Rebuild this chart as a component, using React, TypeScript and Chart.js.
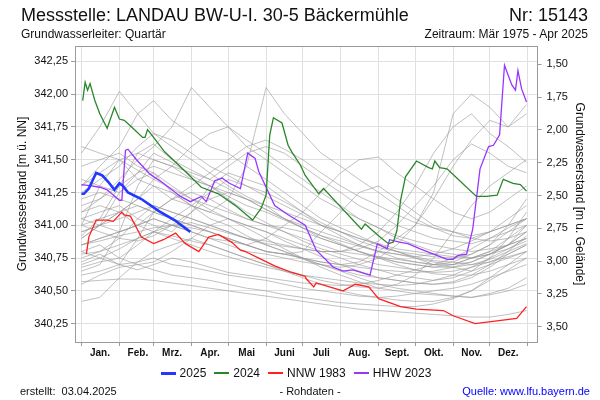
import React, { useEffect, useRef } from "react";
import { Chart, registerables } from "chart.js";
Chart.register(...registerables);

// ---------- data ----------
const GROUND_LEVEL = 343.727; // m ü. NN, used for the right axis (m u. Gelände)
const MONTH_STARTS = [0, 31, 59, 90, 120, 151, 181, 212, 243, 273, 304, 334, 365];
const MONTH_LABELS = ["Jan.", "Feb.", "Mrz.", "Apr.", "Mai", "Juni", "Juli", "Aug.", "Sept.", "Okt.", "Nov.", "Dez.", ""];
const LEFT_TICKS = [340.25, 340.5, 340.75, 341.0, 341.25, 341.5, 341.75, 342.0, 342.25];

const days2025 = [0, 2, 6, 12, 17, 22, 27, 31, 34, 38, 49, 63, 76, 89];
const vals2025 = [341.24, 341.24, 341.28, 341.40, 341.38, 341.33, 341.27, 341.32, 341.30, 341.25, 341.20, 341.11, 341.04, 340.95];

const days2024 = [1, 3, 5, 7, 11, 15, 21, 27, 31, 35, 41, 50, 52, 54, 59, 68, 85, 98, 112, 126, 140, 147, 151, 154, 157, 164, 169, 172, 179, 183, 194, 198, 211, 229, 232, 243, 251, 255, 258, 261, 265, 274, 284, 287, 289, 293, 299, 307, 323, 331, 340, 345, 353, 359, 364];
const vals2024 = [341.95, 342.09, 342.03, 342.08, 341.95, 341.85, 341.74, 341.90, 341.81, 341.80, 341.75, 341.67, 341.67, 341.73, 341.67, 341.56, 341.41, 341.29, 341.24, 341.15, 341.04, 341.13, 341.23, 341.69, 341.82, 341.78, 341.61, 341.56, 341.46, 341.38, 341.24, 341.28, 341.15, 340.97, 341.01, 340.92, 340.86, 340.87, 340.96, 341.19, 341.37, 341.49, 341.44, 341.43, 341.49, 341.44, 341.43, 341.36, 341.22, 341.22, 341.23, 341.35, 341.32, 341.31, 341.26];

const daysNNW1983 = [4, 6, 12, 21, 26, 33, 35, 40, 49, 59, 67, 77, 85, 96, 104, 112, 123, 130, 134, 145, 158, 172, 183, 184, 190, 192, 214, 224, 235, 243, 261, 274, 296, 304, 322, 356, 364];
const valsNNW1983 = [340.78, 340.91, 341.04, 341.04, 341.03, 341.10, 341.08, 341.07, 340.91, 340.86, 340.89, 340.94, 340.86, 340.80, 340.91, 340.93, 340.87, 340.81, 340.80, 340.75, 340.69, 340.64, 340.61, 340.59, 340.53, 340.56, 340.50, 340.55, 340.53, 340.44, 340.38, 340.36, 340.35, 340.31, 340.25, 340.29, 340.38];

const daysHHW2023 = [0, 8, 15, 21, 26, 31, 33, 36, 38, 45, 56, 67, 81, 89, 98, 102, 109, 115, 121, 130, 136, 142, 145, 158, 169, 183, 192, 206, 214, 222, 236, 242, 250, 252, 261, 267, 277, 288, 299, 304, 308, 315, 320, 326, 333, 337, 342, 346, 352, 355, 357, 360, 364];
const valsHHW2023 = [341.31, 341.30, 341.29, 341.27, 341.23, 341.19, 341.19, 341.57, 341.58, 341.50, 341.39, 341.32, 341.22, 341.18, 341.22, 341.18, 341.34, 341.36, 341.32, 341.28, 341.55, 341.51, 341.41, 341.15, 341.08, 341.00, 340.81, 340.68, 340.65, 340.66, 340.62, 340.86, 340.82, 340.89, 340.87, 340.86, 340.82, 340.78, 340.74, 340.74, 340.77, 340.78, 340.97, 341.43, 341.60, 341.61, 341.69, 342.22, 342.07, 342.03, 342.18, 342.04, 341.94];

// earlier years (grey), sampled twice a month
const histDays = [0, 15, 31, 46, 59, 74, 90, 105, 120, 135, 151, 166, 181, 196, 212, 227, 243, 258, 273, 288, 304, 319, 334, 349, 364];
const hist01 = [341.55, 341.75, 342.02, 341.85, 341.70, 341.60, 341.50, 341.40, 341.30, 341.22, 341.15, 341.05, 340.98, 340.90, 340.85, 340.80, 340.75, 340.72, 340.70, 340.68, 340.70, 340.75, 340.80, 340.85, 340.90];
const hist02 = [341.10, 341.20, 341.35, 341.50, 341.60, 341.75, 342.05, 341.90, 341.75, 341.60, 341.50, 341.40, 341.30, 341.20, 341.12, 341.05, 340.98, 340.90, 340.85, 340.80, 340.78, 340.75, 340.78, 340.85, 340.95];
const hist03 = [341.30, 341.45, 341.60, 341.85, 341.95, 341.80, 341.70, 341.60, 341.55, 341.45, 341.35, 341.25, 341.15, 341.05, 340.98, 340.92, 340.85, 340.80, 340.75, 340.70, 340.68, 340.65, 340.70, 340.75, 340.80];
const hist04 = [340.90, 341.00, 341.10, 341.20, 341.30, 341.25, 341.15, 341.10, 341.20, 341.45, 342.05, 341.85, 341.70, 341.55, 341.45, 341.35, 341.25, 341.15, 341.05, 340.98, 340.92, 340.90, 340.95, 341.00, 341.05];
const hist05 = [341.00, 341.05, 341.10, 341.15, 341.10, 341.05, 341.00, 340.95, 340.90, 340.85, 340.80, 340.78, 340.75, 340.72, 340.70, 340.72, 340.80, 340.90, 341.00, 341.25, 341.85, 342.00, 341.90, 341.75, 341.85];
const hist06 = [340.85, 340.90, 340.95, 341.00, 341.05, 341.00, 340.95, 340.90, 340.85, 340.80, 340.78, 340.75, 340.72, 340.70, 340.68, 340.70, 340.75, 340.85, 341.00, 341.20, 341.45, 341.65, 341.80, 341.75, 341.92];
const hist07 = [340.57, 340.58, 340.59, 340.59, 340.58, 340.56, 340.54, 340.52, 340.50, 340.48, 340.46, 340.44, 340.42, 340.40, 340.38, 340.36, 340.35, 340.34, 340.33, 340.32, 340.31, 340.30, 340.30, 340.32, 340.35];
const hist08 = [340.42, 340.45, 340.60, 340.72, 340.80, 340.85, 340.90, 340.85, 340.80, 340.75, 340.70, 340.65, 340.60, 340.55, 340.50, 340.47, 340.45, 340.43, 340.42, 340.42, 340.45, 340.50, 340.60, 340.70, 340.80];
const hist09 = [341.15, 341.20, 341.30, 341.40, 341.45, 341.40, 341.35, 341.30, 341.25, 341.20, 341.12, 341.05, 341.00, 340.95, 340.90, 340.85, 340.80, 340.78, 340.75, 340.72, 340.70, 340.72, 340.78, 340.85, 340.95];
const hist10 = [340.95, 341.00, 341.10, 341.20, 341.35, 341.45, 341.60, 341.70, 341.75, 341.65, 341.55, 341.45, 341.35, 341.25, 341.15, 341.05, 340.98, 340.92, 340.88, 340.85, 340.82, 340.80, 340.82, 340.85, 340.90];
const hist11 = [340.85, 340.90, 340.95, 341.00, 341.05, 341.00, 340.95, 340.90, 340.88, 340.85, 340.90, 341.00, 341.10, 341.25, 341.40, 341.50, 341.52, 341.40, 341.30, 341.20, 341.10, 341.05, 341.10, 341.20, 341.30];
const hist12 = [340.75, 340.80, 340.90, 341.05, 341.15, 341.10, 341.05, 341.00, 340.95, 340.90, 340.85, 340.80, 340.75, 340.70, 340.65, 340.60, 340.55, 340.52, 340.50, 340.48, 340.46, 340.45, 340.48, 340.52, 340.60];
const hist13 = [341.20, 341.25, 341.20, 341.15, 341.10, 341.05, 341.00, 340.95, 340.90, 340.85, 340.80, 340.78, 340.75, 340.72, 340.70, 340.68, 340.66, 340.65, 340.64, 340.65, 340.68, 340.72, 340.78, 340.85, 341.00];
const hist14 = [340.68, 340.72, 340.75, 340.85, 340.95, 341.05, 341.15, 341.10, 341.05, 341.00, 340.95, 340.90, 340.85, 340.80, 340.75, 340.70, 340.66, 340.62, 340.60, 340.58, 340.60, 340.65, 340.75, 340.90, 341.10];
const hist15 = [341.05, 341.10, 341.15, 341.05, 341.00, 340.95, 341.10, 341.30, 341.40, 341.35, 341.30, 341.20, 341.10, 341.00, 340.92, 340.85, 340.80, 340.75, 340.72, 340.70, 340.70, 340.75, 340.80, 340.90, 341.00];
const hist16 = [340.80, 340.85, 340.75, 340.70, 340.72, 340.80, 340.90, 341.00, 341.05, 341.00, 340.95, 340.88, 340.82, 340.76, 340.70, 340.65, 340.60, 340.58, 340.56, 340.55, 340.56, 340.60, 340.68, 340.78, 340.85];
const hist17 = [341.30, 341.40, 341.50, 341.55, 341.50, 341.45, 341.40, 341.35, 341.45, 341.55, 341.60, 341.55, 341.45, 341.35, 341.25, 341.15, 341.08, 341.00, 340.95, 340.90, 340.88, 340.86, 340.90, 340.95, 341.00];
const hist18 = [341.45, 341.50, 341.55, 341.45, 341.40, 341.30, 341.20, 341.15, 341.10, 341.05, 341.00, 340.95, 340.90, 340.85, 340.80, 340.78, 340.76, 340.74, 340.72, 340.70, 340.72, 340.78, 340.85, 340.95, 341.05];
const hist19 = [340.70, 340.75, 340.82, 340.90, 340.95, 340.92, 340.88, 340.85, 340.80, 340.75, 340.70, 340.66, 340.62, 340.58, 340.55, 340.53, 340.52, 340.55, 340.62, 340.75, 340.95, 341.15, 341.30, 341.40, 341.50];
const hist20 = [341.00, 340.95, 340.90, 340.88, 340.92, 341.00, 341.10, 341.20, 341.25, 341.20, 341.15, 341.10, 341.05, 341.00, 340.95, 340.90, 340.86, 340.82, 340.80, 340.78, 340.76, 340.75, 340.78, 340.82, 340.88];
const hist21 = [340.62, 340.65, 340.70, 340.72, 340.75, 340.70, 340.68, 340.65, 340.62, 340.60, 340.58, 340.55, 340.52, 340.50, 340.48, 340.46, 340.45, 340.46, 340.48, 340.50, 340.52, 340.55, 340.60, 340.65, 340.70];
const hist22 = [341.60, 341.55, 341.50, 341.42, 341.35, 341.28, 341.20, 341.12, 341.05, 340.98, 340.90, 340.82, 340.75, 340.68, 340.62, 340.57, 340.52, 340.50, 340.48, 340.47, 340.46, 340.45, 340.47, 340.50, 340.55];
const hist23 = [340.90, 341.00, 341.25, 341.35, 341.30, 341.20, 341.15, 341.25, 341.35, 341.30, 341.25, 341.18, 341.10, 341.02, 340.95, 340.88, 340.83, 340.80, 340.78, 340.76, 340.75, 340.78, 340.85, 341.00, 341.20];
const hist24 = [340.78, 340.80, 340.85, 340.90, 340.95, 341.00, 340.98, 340.95, 340.90, 340.85, 340.80, 340.78, 340.80, 340.95, 341.10, 341.25, 341.30, 341.20, 341.10, 341.00, 340.95, 340.90, 340.88, 340.90, 340.95];
const hist25 = [340.95, 341.00, 341.05, 341.10, 341.15, 341.10, 341.05, 341.00, 340.95, 340.90, 340.88, 340.85, 340.82, 340.80, 340.80, 340.85, 340.95, 341.10, 341.30, 341.55, 341.75, 341.85, 341.70, 341.60, 341.48];
const hist26 = [341.10, 341.15, 341.10, 341.00, 340.95, 340.90, 340.85, 340.80, 340.76, 340.72, 340.68, 340.65, 340.62, 340.60, 340.58, 340.56, 340.55, 340.54, 340.55, 340.58, 340.62, 340.68, 340.75, 340.82, 340.90];
const hist27 = [340.80, 340.75, 340.70, 340.90, 341.10, 341.20, 341.25, 341.20, 341.12, 341.05, 341.00, 340.98, 340.95, 340.90, 340.85, 340.80, 340.75, 340.70, 340.66, 340.63, 340.62, 340.62, 340.65, 340.70, 340.75];
const hist28 = [341.25, 341.35, 341.45, 341.60, 341.70, 341.65, 341.55, 341.45, 341.38, 341.30, 341.22, 341.15, 341.08, 341.00, 340.95, 340.90, 340.85, 340.80, 340.76, 340.73, 340.72, 340.70, 340.72, 340.76, 340.80];
const hist29 = [341.00, 341.30, 341.50, 341.35, 341.40, 341.25, 341.15, 341.05, 341.00, 340.92, 340.85, 340.80, 340.74, 340.70, 340.66, 340.62, 340.60, 340.58, 340.56, 340.55, 340.57, 340.62, 340.70, 340.80, 340.92];
const hist30 = [340.65, 340.70, 340.95, 341.30, 341.50, 341.45, 341.35, 341.30, 341.20, 341.10, 341.02, 340.95, 340.88, 340.82, 340.78, 340.74, 340.70, 340.68, 340.66, 340.64, 340.65, 340.68, 340.72, 340.78, 340.85];
const hist31 = [341.05, 341.00, 340.95, 341.00, 341.10, 341.20, 341.30, 341.40, 341.50, 341.60, 341.65, 341.58, 341.50, 341.40, 341.30, 341.22, 341.15, 341.08, 341.02, 340.98, 340.95, 340.92, 340.95, 341.00, 341.05];
const hist32 = [340.72, 340.78, 340.70, 340.66, 340.70, 340.75, 340.72, 340.68, 340.64, 340.62, 340.60, 340.58, 340.56, 340.55, 340.54, 340.55, 340.58, 340.62, 340.66, 340.70, 340.75, 340.82, 340.90, 340.98, 341.05];
const hist33 = [340.92, 341.05, 341.30, 341.55, 341.62, 341.50, 341.42, 341.35, 341.28, 341.20, 341.12, 341.05, 340.98, 340.92, 340.88, 340.84, 340.80, 340.78, 340.76, 340.78, 340.82, 340.88, 340.95, 341.05, 341.15];
const hist34 = [340.85, 340.88, 340.92, 340.95, 340.98, 341.00, 341.02, 340.98, 340.94, 340.90, 340.86, 340.84, 340.82, 340.80, 340.80, 340.82, 340.88, 341.00, 341.15, 341.30, 341.50, 341.62, 341.55, 341.45, 341.40];
const hist35 = [340.55, 340.62, 340.68, 340.70, 340.66, 340.62, 340.60, 340.58, 340.55, 340.52, 340.50, 340.47, 340.45, 340.43, 340.41, 340.40, 340.39, 340.38, 340.38, 340.40, 340.44, 340.50, 340.58, 340.66, 340.75];
const hist36 = [341.35, 341.30, 341.25, 341.40, 341.55, 341.48, 341.38, 341.30, 341.22, 341.15, 341.10, 341.04, 340.98, 340.92, 340.86, 340.80, 340.76, 340.72, 340.70, 340.68, 340.68, 340.70, 340.74, 340.80, 340.86];
const HISTORY = [hist01, hist02, hist03, hist04, hist05, hist06, hist07, hist08, hist09, hist10, hist11, hist12, hist13, hist14, hist15, hist16, hist17, hist18, hist19, hist20, hist21, hist22, hist23, hist24, hist25, hist26, hist27, hist28, hist29, hist30, hist31, hist32, hist33, hist34, hist35, hist36];

// ---------- styles ----------
const FONT = "'Liberation Sans', Arial, Helvetica, sans-serif";
const C_2025 = "#2238ff";
const C_2024 = "#2a862a";
const C_NNW = "#ff2020";
const C_HHW = "#9a34ff";
const C_GREY = "rgba(150,150,150,0.6)";
const C_AXIS = "#9a9a9a";
const C_GRID = "#e0e0e0";

const pts = (xs: number[], ys: number[]) => xs.map((x, i) => ({ x, y: ys[i] }));

const framePlugin = {
  id: "frameTop",
  afterDraw(chart: any) {
    const { ctx, chartArea } = chart;
    ctx.save();
    ctx.strokeStyle = C_AXIS;
    ctx.lineWidth = 1;
    ctx.beginPath();
    ctx.moveTo(chartArea.left, Math.round(chartArea.top) + 0.5);
    ctx.lineTo(chartArea.right, Math.round(chartArea.top) + 0.5);
    ctx.stroke();
    ctx.restore();
  },
};

function ChartCanvas() {
  const ref = useRef<HTMLCanvasElement | null>(null);
  useEffect(() => {
    if (!ref.current) return;
    const datasets: any[] = [
      { label: "2025", data: pts(days2025, vals2025), borderColor: C_2025, borderWidth: 2.6 },
      { label: "2024", data: pts(days2024, vals2024), borderColor: C_2024, borderWidth: 1.3 },
      { label: "NNW 1983", data: pts(daysNNW1983, valsNNW1983), borderColor: C_NNW, borderWidth: 1.3 },
      { label: "HHW 2023", data: pts(daysHHW2023, valsHHW2023), borderColor: C_HHW, borderWidth: 1.3 },
      ...HISTORY.map((h, i) => ({
        label: "hist" + i,
        data: pts(histDays, h),
        borderColor: C_GREY,
        borderWidth: 1,
      })),
    ];
    const chart = new Chart(ref.current, {
      type: "line",
      data: { datasets },
      plugins: [framePlugin],
      options: {
        responsive: false,
        animation: false,
        devicePixelRatio: 1,
        elements: { point: { radius: 0 }, line: { tension: 0, fill: false } },
        layout: { padding: { top: 46, bottom: 38, left: 0, right: 0 } },
        plugins: { legend: { display: false }, tooltip: { enabled: false }, title: { display: false } },
        scales: {
          x: {
            type: "linear",
            min: -5.3,
            max: 373,
            afterBuildTicks: (scale: any) => {
              scale.ticks = MONTH_STARTS.map((v) => ({ value: v }));
            },
            afterFit: (scale: any) => {
              scale.height = 20;
            },
            ticks: {
              autoSkip: false,
              maxRotation: 0,
              labelOffset: 18.5,
              padding: 1,
              color: "#111",
              font: { family: FONT, size: 10, weight: "bold" },
              callback: (_v: any, i: number) => MONTH_LABELS[i],
            },
            grid: {
              color: C_GRID,
              borderDash: [3, 3],
              tickLength: 4,
              tickColor: C_AXIS,
              tickBorderDash: [],
            },
            border: { color: C_AXIS, display: true },
          } as any,
          y: {
            type: "linear",
            position: "left",
            min: 340.11,
            max: 342.367,
            afterBuildTicks: (scale: any) => {
              scale.ticks = LEFT_TICKS.map((v) => ({ value: v }));
            },
            afterFit: (scale: any) => {
              scale.width = 75;
            },
            ticks: {
              padding: 3,
              color: "#111",
              font: { family: FONT, size: 11 },
              callback: (v: any) => Number(v).toFixed(2).replace(".", ","),
            },
            grid: {
              color: C_GRID,
              borderDash: [3, 3],
              tickLength: 4,
              tickColor: C_AXIS,
              tickBorderDash: [],
            },
            border: { color: C_AXIS },
            title: {
              display: true,
              text: "Grundwasserstand [m ü. NN]",
              color: "#111",
              font: { family: FONT, size: 12 },
              padding: { top: 15, bottom: 0 },
            },
          } as any,
          y2: {
            type: "linear",
            position: "right",
            reverse: true,
            min: GROUND_LEVEL - 342.367,
            max: GROUND_LEVEL - 340.11,
            ticks: {
              stepSize: 0.25,
              includeBounds: false,
              padding: 5,
              color: "#111",
              font: { family: FONT, size: 11 },
              callback: (v: any) => Number(v).toFixed(2).replace(".", ","),
            },
            afterFit: (scale: any) => {
              scale.width = 62.5;
            },
            grid: { drawOnChartArea: false, tickLength: 4, color: C_AXIS },
            border: { color: C_AXIS },
            title: {
              display: true,
              text: "Grundwasserstand [m u. Gelände]",
              color: "#111",
              font: { family: FONT, size: 12 },
              padding: { top: 13, bottom: 0 },
            },
          } as any,
        },
      } as any,
    });
    return () => chart.destroy();
  }, []);
  return <canvas ref={ref} width={600} height={400} style={{ position: "absolute", left: 0, top: 0, width: 600, height: 400 }} />;
}

function LegendItem({ color, label, width }: { color: string; label: string; width: number }) {
  return (
    <span style={{ display: "inline-flex", alignItems: "center", marginRight: 8 }}>
      <span style={{ display: "inline-block", width: 15, height: width, background: color, marginRight: 4 }} />
      <span>{label}</span>
    </span>
  );
}

export default function App() {
  const text: React.CSSProperties = { position: "absolute", fontFamily: FONT, color: "#111", whiteSpace: "nowrap" };
  return (
    <div style={{ position: "absolute", left: 0, top: 0, width: 600, height: 400, background: "#fff", overflow: "hidden" }}>
      <ChartCanvas />
      <div style={{ ...text, left: 21, top: 5, fontSize: 18, lineHeight: "20px" }}>Messstelle: LANDAU BW-U-I. 30-5 Bäckermühle</div>
      <div style={{ ...text, right: 12, top: 5, fontSize: 18, lineHeight: "20px" }}>Nr: 15143</div>
      <div style={{ ...text, left: 21, top: 27, fontSize: 12, lineHeight: "14px" }}>Grundwasserleiter: Quartär</div>
      <div style={{ ...text, right: 12, top: 27, fontSize: 12, lineHeight: "14px" }}>Zeitraum: Mär 1975 - Apr 2025</div>
      <div style={{ ...text, left: 0, width: 600, top: 366, fontSize: 12, lineHeight: "14px", display: "flex", justifyContent: "center" }}>
        <LegendItem color={C_2025} label="2025" width={3} />
        <LegendItem color={C_2024} label="2024" width={1.5} />
        <LegendItem color={C_NNW} label="NNW 1983" width={1.5} />
        <LegendItem color={C_HHW} label="HHW 2023" width={1.5} />
      </div>
      <div style={{ ...text, left: 20, top: 385, fontSize: 11, lineHeight: "13px" }}>erstellt:&nbsp;&nbsp;03.04.2025</div>
      <div style={{ ...text, left: 0, width: 620, textAlign: "center", top: 385, fontSize: 11, lineHeight: "13px" }}>- Rohdaten -</div>
      <div style={{ ...text, right: 10, top: 385, fontSize: 11, lineHeight: "13px", color: "#0000ff" }}>Quelle: www.lfu.bayern.de</div>
    </div>
  );
}
